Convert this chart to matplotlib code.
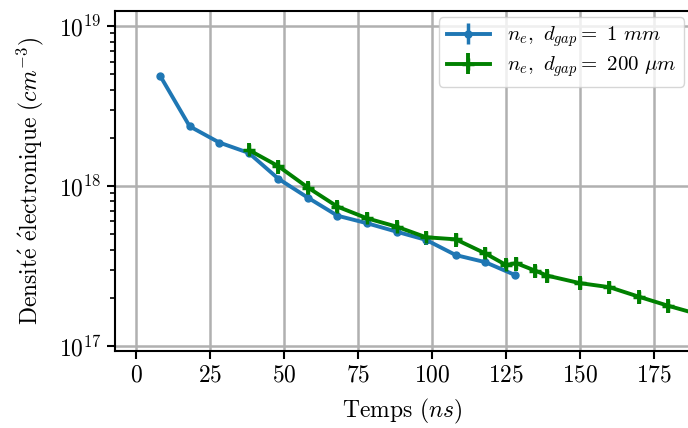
import matplotlib
matplotlib.use("Agg")
import numpy as np
from matplotlib import pyplot as plt

# --- data ---
t_1mm = [8, 18, 28, 38, 48, 58, 68, 78, 88, 98, 108, 118, 128]
ne_1mm = [4.89e18, 2.36e18, 1.87e18, 1.61e18, 1.11e18, 8.45e17, 6.52e17,
          5.85e17, 5.18e17, 4.6e17, 3.7e17, 3.34e17, 2.78e17]

t_200um = [38, 48, 58, 68, 78, 88, 98, 108, 118, 125, 128.5, 135, 139,
           150, 160, 170, 180, 190]
ne_200um = [1.68e18, 1.33e18, 9.78e17, 7.43e17, 6.28e17, 5.57e17, 4.78e17,
            4.64e17, 3.79e17, 3.21e17, 3.29e17, 2.95e17, 2.75e17,
            2.47e17, 2.33e17, 2.03e17, 1.78e17, 1.58e17]

# relative errors (rough)
err_1mm = 0.03
err_200um = 0.10

# --- style: Computer Modern look ---
plt.rcParams['font.family'] = 'serif'
plt.rcParams['font.serif'] = ['cmr10']
plt.rcParams['mathtext.fontset'] = 'cm'
plt.rcParams['axes.formatter.use_mathtext'] = True
plt.rcParams['axes.unicode_minus'] = False
plt.rcParams['font.size'] = 17

fig = plt.figure(figsize=(6.88, 4.28), dpi=100)
ax = fig.add_axes([0.167, 0.180, 0.836, 0.794])

ne_1mm = np.array(ne_1mm)
ne_200um = np.array(ne_200um)

ax.errorbar(t_1mm, ne_1mm, yerr=err_1mm * ne_1mm, color='#1f77b4',
            marker='o', markersize=5, lw=2.8, elinewidth=2.5,
            label=r'$n_e,\ d_{gap} =\ 1\ mm$', zorder=3)
ax.errorbar(t_200um, ne_200um, yerr=err_200um * ne_200um, color='green',
            marker='+', markersize=9, mew=2.5, lw=2.8, elinewidth=2.8,
            label=r'$n_e,\ d_{gap} =\ 200\ \mu m$', zorder=3)

ax.set_yscale('log')
ax.set_xlim(-7.3, 187.3)
ax.set_ylim(9.3e16, 1.24e19)
ax.set_xticks([0, 25, 50, 75, 100, 125, 150, 175])

ax.grid(True, which='major', color='#b0b0b0', lw=1.8)
for s in ax.spines.values():
    s.set_linewidth(1.5)
ax.tick_params(which='major', width=1.5, length=6)
ax.tick_params(which='minor', width=1.2, length=3.5)

ax.set_xlabel(r'Temps ($ns$)', labelpad=8)
ax.set_ylabel(r'$\mathrm{Densit\acute{e}\ \acute{e}lectronique}\ (cm^{-3})$',
              labelpad=9)

ax.legend(loc='upper right', fontsize=15, handlelength=2.1,
          borderaxespad=0.3, labelspacing=0.25, borderpad=0.35)

plt.savefig('out.png', dpi=100)
